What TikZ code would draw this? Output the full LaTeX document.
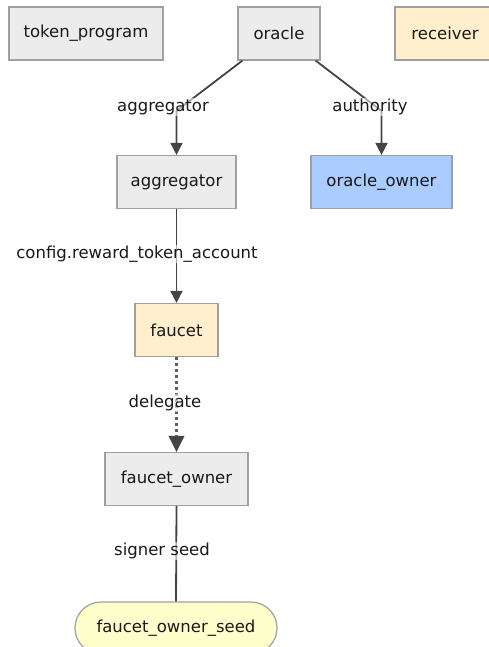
\documentclass[tikz,border=0pt]{standalone}
\usepackage{fontspec}
\setmainfont{DejaVu Sans}
\usetikzlibrary{arrows.meta}
\definecolor{greyfill}{HTML}{ECECEC}
\definecolor{greyline}{HTML}{A0A0A0}
\definecolor{peachfill}{HTML}{FFEFCC}
\definecolor{bluefill}{HTML}{AACCFF}
\definecolor{seedfill}{HTML}{FFFFCC}
\definecolor{edgecol}{HTML}{444444}
\begin{document}
\begin{tikzpicture}[x=1pt,y=-1pt,
  every node/.style={font=\fontsize{16.5}{19}\selectfont, text=black!90},
  box/.style={draw=greyline, line width=1.2pt, fill=greyfill, minimum height=53pt, inner sep=0pt},
  peach/.style={box, fill=peachfill},
  bluebox/.style={box, fill=bluefill},
  seedbox/.style={box, fill=seedfill, rounded corners=26pt},
  edge/.style={draw=edgecol, line width=1.8pt},
  arr/.style={edge, -{Triangle[width=12pt,length=12pt]}},
  lbl/.style={fill=white, fill opacity=0.55, text opacity=1, inner sep=1pt}
]
\useasboundingbox (0,0) rectangle (489,647);
\node[box, minimum width=154pt] (tp) at (86,33.5) {token\_program};
\node[box, minimum width=82pt] (oracle) at (279,33.5) {oracle};
\node[peach, minimum width=100pt] (receiver) at (445,33.5) {receiver};
\node[box, minimum width=119pt] (agg) at (176.5,182) {aggregator};
\node[bluebox, minimum width=141pt] (oo) at (381.5,182) {oracle\_owner};
\node[peach, minimum width=83pt] (faucet) at (176.5,330) {faucet};
\node[box, minimum width=143pt] (fo) at (176.5,479) {faucet\_owner};
\node[seedbox, minimum width=202pt, minimum height=52pt] (seed) at (176,628) {faucet\_owner\_seed};

\draw[arr] ([xshift=5pt]oracle.south west) -- ([yshift=44pt]agg.north) -- (agg.north);
\draw[arr] ([xshift=-5pt]oracle.south east) -- ([yshift=44pt]oo.north) -- (oo.north);
\draw[arr] (agg.south) -- (faucet.north);
\draw[edge, line width=2.8pt, draw=edgecol!85, dash pattern=on 3pt off 3pt] (faucet.south) -- ([yshift=15pt]fo.north);
\draw[draw=edgecol, line width=0.2pt, -{Triangle[width=16pt,length=16pt]}] ([yshift=16pt]fo.north) -- (fo.north);
\draw[edge] (fo.south) -- (seed.north);

\node[lbl] (l1) at (163,107) {aggregator};
\node[lbl] (l2) at (370,107) {authority};
\node[lbl] (l3) at (137,254) {config.reward\_token\_account};
\node[lbl] (l4) at (165,403) {delegate};
\node[lbl] (l5) at (162,551) {signer seed};
\end{tikzpicture}
\end{document}
